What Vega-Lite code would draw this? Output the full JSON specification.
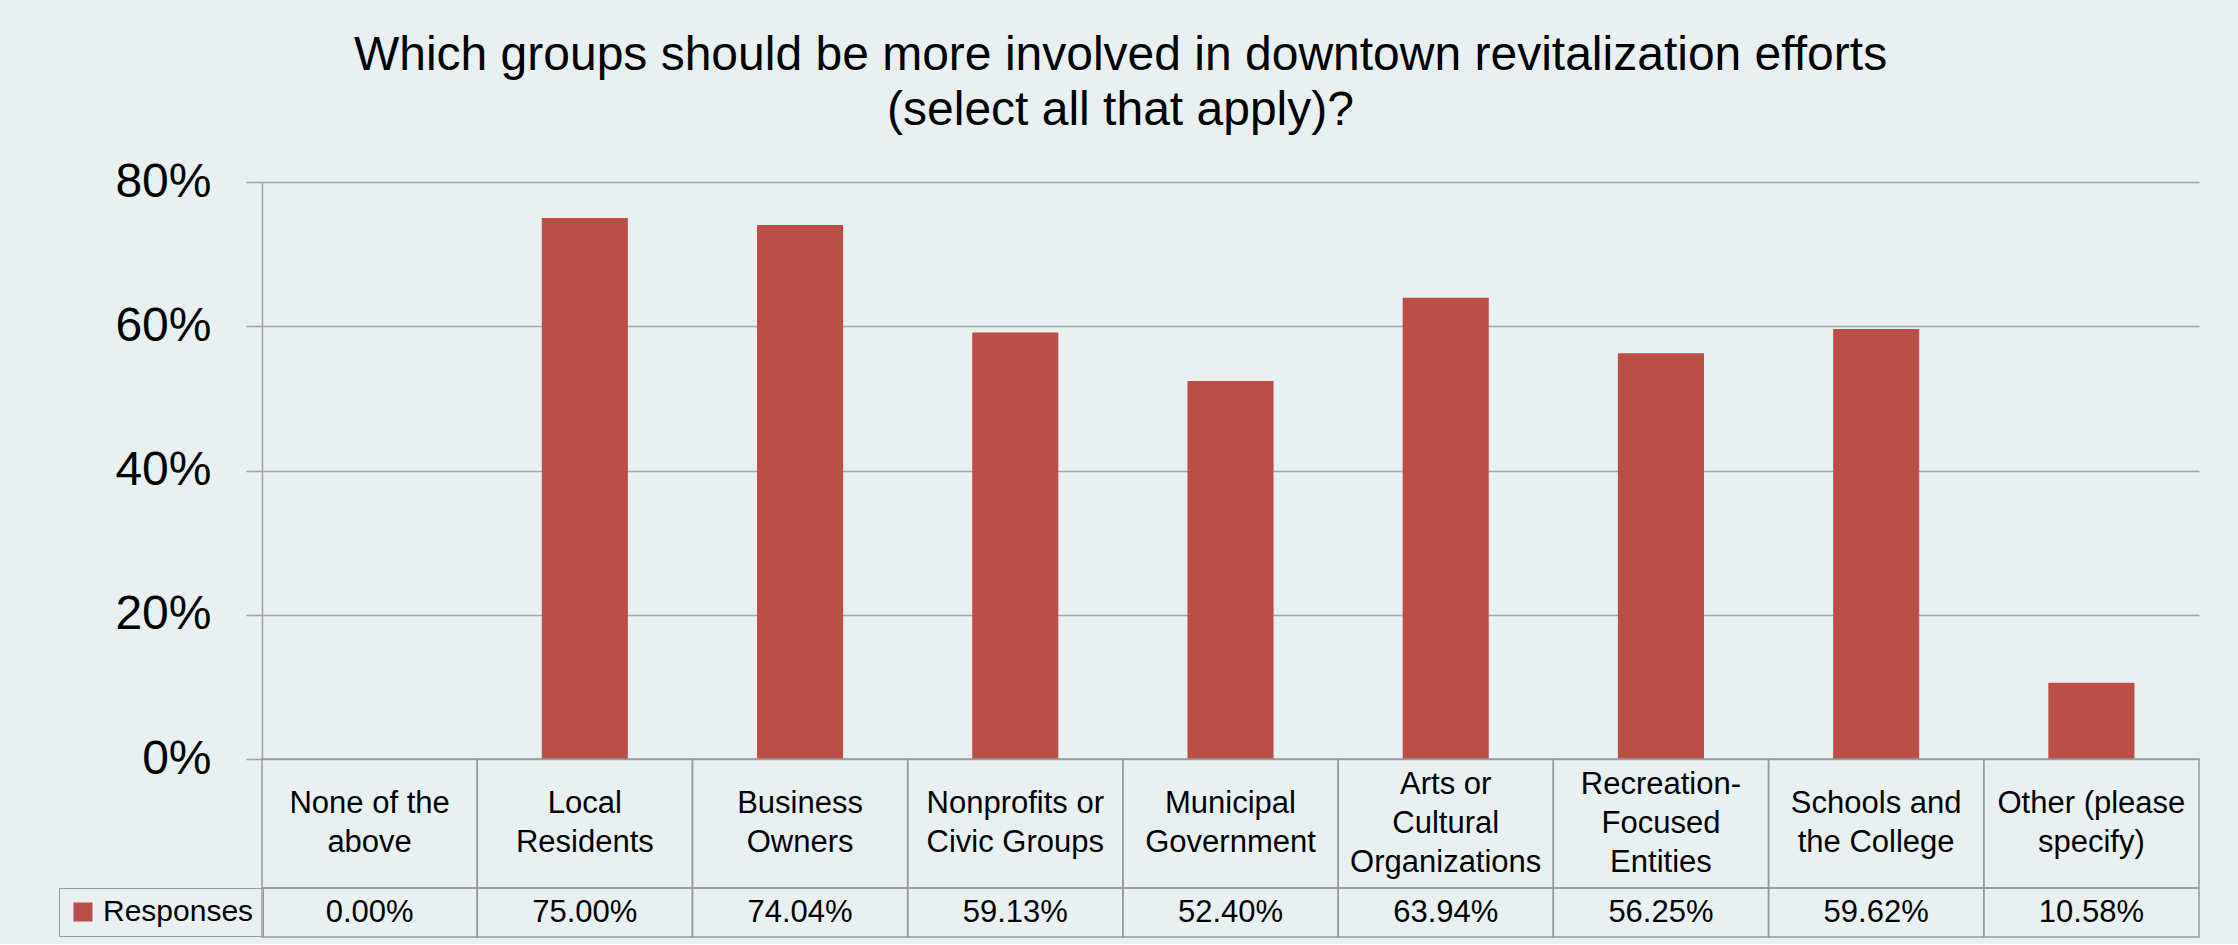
{
  "$schema": "https://vega.github.io/schema/vega-lite/v6.json",
  "background": "#E8F0F2",
  "padding": {"left": 58, "right": 38, "top": 32, "bottom": 6},
  "title": {
    "text": ["Which groups should be more involved in downtown revitalization efforts", "(select all that apply)?"],
    "fontSize": 48,
    "font": "Liberation Sans",
    "fontWeight": "normal",
    "color": "#000000",
    "lineHeight": 55,
    "anchor": "middle",
    "frame": "group",
    "dx": -110,
    "offset": 23
  },
  "data": {
    "values": [
      {"category": "None of the above", "label": "None of the\nabove", "series": "Responses", "value": 0.0},
      {"category": "Local Residents", "label": "Local\nResidents", "series": "Responses", "value": 0.75},
      {"category": "Business Owners", "label": "Business\nOwners", "series": "Responses", "value": 0.7404},
      {"category": "Nonprofits or Civic Groups", "label": "Nonprofits or\nCivic Groups", "series": "Responses", "value": 0.5913},
      {"category": "Municipal Government", "label": "Municipal\nGovernment", "series": "Responses", "value": 0.524},
      {"category": "Arts or Cultural Organizations", "label": "Arts or\nCultural\nOrganizations", "series": "Responses", "value": 0.6394},
      {"category": "Recreation-Focused Entities", "label": "Recreation-\nFocused\nEntities", "series": "Responses", "value": 0.5625},
      {"category": "Schools and the College", "label": "Schools and\nthe College", "series": "Responses", "value": 0.5962},
      {"category": "Other (please specify)", "label": "Other (please\nspecify)", "series": "Responses", "value": 0.1058}
    ]
  },
  "spacing": 0,
  "bounds": "flush",
  "vconcat": [
    {
      "width": 1937,
      "height": 577,
      "mark": {"type": "bar"},
      "encoding": {
        "x": {"field": "category", "type": "nominal", "sort": null, "scale": {"paddingInner": 0.6, "paddingOuter": 0.3}, "axis": null},
        "y": {
          "field": "value", "type": "quantitative",
          "scale": {"domain": [0, 0.8]},
          "axis": {
            "values": [0, 0.2, 0.4, 0.6, 0.8],
            "format": ".0%",
            "title": null,
            "labelFontSize": 48,
            "labelFont": "Liberation Sans",
            "labelColor": "#000000",
            "labelPadding": 35,
            "tickSize": 16,
            "tickColor": "#A3A3A3",
            "tickWidth": 1.5,
            "domainColor": "#A3A3A3",
            "domainWidth": 1.5,
            "grid": true,
            "gridColor": "#A3A3A3",
            "gridWidth": 1.5
          }
        },
        "color": {
          "field": "series", "type": "nominal",
          "scale": {"range": ["#BC4E48"]},
          "legend": {
            "orient": "none",
            "legendX": -203,
            "legendY": 706,
            "title": null,
            "symbolType": "square",
            "symbolSize": 361,
            "symbolStrokeWidth": 0,
            "symbolOffset": 0,
            "labelFontSize": 30,
            "labelFont": "Liberation Sans",
            "labelColor": "#000000",
            "labelOffset": 5,
            "strokeColor": "#999999",
            "padding": 9
          }
        }
      }
    },
    {
      "width": 1937,
      "height": 129,
      "layer": [
        {
          "mark": {"type": "rect", "fill": null, "stroke": "#999999", "strokeWidth": 1.5},
          "encoding": {
            "x": {"field": "category", "type": "nominal", "sort": null, "scale": {"paddingInner": 0, "paddingOuter": 0}, "axis": null}
          }
        },
        {
          "transform": [{"filter": "length(split(datum.label, '\\n')) == 2"}],
          "mark": {"type": "text", "fontSize": 31, "font": "Liberation Sans", "lineHeight": 39, "lineBreak": "\n", "color": "#000000", "dy": -19.5},
          "encoding": {
            "x": {"field": "category", "type": "nominal", "sort": null, "scale": {"paddingInner": 0, "paddingOuter": 0}, "axis": null},
            "text": {"field": "label"}
          }
        },
        {
          "transform": [{"filter": "length(split(datum.label, '\\n')) == 3"}],
          "mark": {"type": "text", "fontSize": 31, "font": "Liberation Sans", "lineHeight": 39, "lineBreak": "\n", "color": "#000000", "dy": -39},
          "encoding": {
            "x": {"field": "category", "type": "nominal", "sort": null, "scale": {"paddingInner": 0, "paddingOuter": 0}, "axis": null},
            "text": {"field": "label"}
          }
        }
      ]
    },
    {
      "width": 1937,
      "height": 49,
      "layer": [
        {
          "mark": {"type": "rect", "fill": null, "stroke": "#999999", "strokeWidth": 1.5},
          "encoding": {
            "x": {"field": "category", "type": "nominal", "sort": null, "scale": {"paddingInner": 0, "paddingOuter": 0}, "axis": null}
          }
        },
        {
          "mark": {"type": "text", "fontSize": 31, "font": "Liberation Sans", "color": "#000000"},
          "encoding": {
            "x": {"field": "category", "type": "nominal", "sort": null, "scale": {"paddingInner": 0, "paddingOuter": 0}, "axis": null},
            "text": {"field": "value", "format": ".2%"}
          }
        }
      ]
    }
  ],
  "resolve": {"scale": {"x": "independent"}},
  "config": {"view": {"stroke": null}, "font": "Liberation Sans"}
}
